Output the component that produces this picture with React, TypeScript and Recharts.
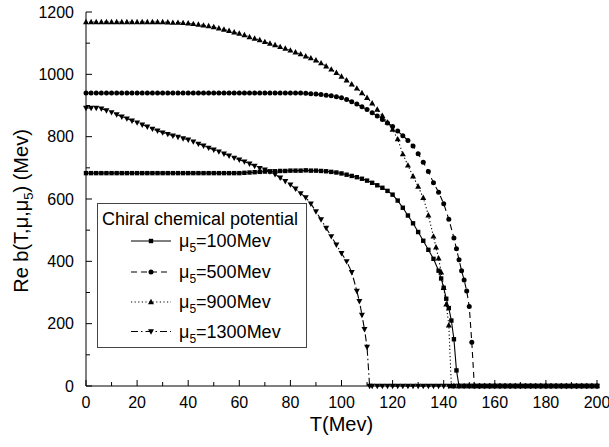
import { LineChart, Line, XAxis, YAxis, Legend } from "recharts";

const FONT = '"Liberation Sans", Arial, Helvetica, sans-serif';

// Re b(T, mu, mu5) in MeV against T in MeV: [T, value]
const mu100: [number, number][] = [
  [0, 683], [2, 683], [4, 683], [6, 683], [8, 683], [10, 683], [12, 683], [14, 683], [16, 683], [18, 683],
  [20, 683], [22, 683], [24, 683], [26, 683], [28, 683], [30, 683], [32, 683], [34, 683], [36, 683], [38, 683],
  [40, 683], [42, 683], [44, 683], [46, 683], [48, 683], [50, 683], [52, 683], [54, 683], [56, 683], [58, 683],
  [60, 683], [62, 684], [64, 685], [66, 686], [68, 687], [70, 688], [72, 688], [74, 689], [76, 690], [78, 690],
  [80, 691], [82, 691], [84, 691], [86, 692], [88, 691], [90, 691], [92, 690], [94, 689], [96, 687], [98, 685],
  [100, 682], [102, 678], [104, 674], [106, 670], [108, 665], [110, 659], [112, 652], [114, 644], [116, 636],
  [118, 626], [120, 614], [122, 595], [124, 572], [126, 547], [128, 522], [130, 494], [132, 466], [134, 437],
  [136, 408], [138, 370], [139, 345], [140, 315], [141, 280], [142, 250], [143, 210], [144, 150], [145, 50],
  [146, 0], [148, 0], [150, 0], [152, 0], [154, 0], [156, 0], [158, 0], [160, 0], [162, 0], [164, 0], [166, 0],
  [168, 0], [170, 0], [172, 0], [174, 0], [176, 0], [178, 0], [180, 0], [182, 0], [184, 0], [186, 0], [188, 0],
  [190, 0], [192, 0], [194, 0], [196, 0], [198, 0], [200, 0],
];

const mu500: [number, number][] = [
  [0, 940], [2, 940], [4, 940], [6, 940], [8, 940], [10, 940], [12, 940], [14, 940], [16, 940], [18, 940],
  [20, 940], [22, 940], [24, 940], [26, 940], [28, 940], [30, 940], [32, 940], [34, 940], [36, 940], [38, 940],
  [40, 940], [42, 940], [44, 940], [46, 940], [48, 940], [50, 940], [52, 940], [54, 940], [56, 940], [58, 940],
  [60, 940], [62, 940], [64, 940], [66, 940], [68, 940], [70, 940], [72, 940], [74, 940], [76, 940], [78, 940],
  [80, 940], [82, 940], [84, 940], [86, 939], [88, 938], [90, 937], [92, 935], [94, 933], [96, 931], [98, 928],
  [100, 925], [102, 919], [104, 912], [106, 905], [108, 896], [110, 887], [112, 877], [114, 866], [116, 855],
  [118, 844], [120, 833], [122, 818], [124, 803], [126, 788], [128, 770], [130, 745], [132, 718], [134, 688],
  [136, 652], [138, 622], [140, 585], [142, 535], [144, 475], [145, 440], [146, 405], [147, 370], [148, 340],
  [149, 305], [150, 255], [151, 140], [152, 0], [154, 0], [156, 0], [158, 0], [160, 0], [162, 0], [164, 0],
  [166, 0], [168, 0], [170, 0], [172, 0], [174, 0], [176, 0], [178, 0], [180, 0], [182, 0], [184, 0], [186, 0],
  [188, 0], [190, 0], [192, 0], [194, 0], [196, 0], [198, 0], [200, 0],
];

const mu900: [number, number][] = [
  [0, 1168], [2, 1168], [4, 1168], [6, 1168], [8, 1168], [10, 1168], [12, 1168], [14, 1168], [16, 1168],
  [18, 1168], [20, 1168], [22, 1168], [24, 1168], [26, 1168], [28, 1168], [30, 1168], [32, 1167], [34, 1166],
  [36, 1166], [38, 1165], [40, 1164], [42, 1162], [44, 1160], [46, 1157], [48, 1155], [50, 1152], [52, 1148],
  [54, 1144], [56, 1140], [58, 1135], [60, 1131], [62, 1126], [64, 1120], [66, 1115], [68, 1110], [70, 1104],
  [72, 1099], [74, 1094], [76, 1088], [78, 1083], [80, 1077], [82, 1071], [84, 1065], [86, 1058], [88, 1052],
  [90, 1045], [92, 1036], [94, 1026], [96, 1016], [98, 1005], [100, 993], [102, 981], [104, 968], [106, 955],
  [108, 940], [110, 925], [112, 907], [114, 887], [116, 867], [118, 846], [120, 823], [122, 792], [124, 744],
  [126, 708], [128, 673], [130, 640], [132, 604], [134, 548], [136, 480], [137, 445], [138, 410], [139, 365],
  [140, 315], [141, 262], [142, 195], [143, 0], [144, 0], [146, 0], [148, 0], [150, 0], [152, 0], [154, 0],
  [156, 0], [158, 0], [160, 0], [162, 0], [164, 0], [166, 0], [168, 0], [170, 0], [172, 0], [174, 0], [176, 0],
  [178, 0], [180, 0], [182, 0], [184, 0], [186, 0], [188, 0], [190, 0], [192, 0], [194, 0], [196, 0], [198, 0],
  [200, 0],
];

const mu1300: [number, number][] = [
  [0, 892], [2, 892], [4, 892], [6, 890], [8, 884], [10, 878], [12, 871], [14, 864], [16, 858], [18, 851],
  [20, 845], [22, 838], [24, 832], [26, 825], [28, 819], [30, 813], [32, 808], [34, 803], [36, 799], [38, 794],
  [40, 790], [42, 784], [44, 777], [46, 771], [48, 764], [50, 758], [52, 752], [54, 745], [56, 739], [58, 732],
  [60, 726], [62, 720], [64, 713], [66, 706], [68, 699], [70, 694], [72, 688], [74, 679], [76, 668], [78, 657],
  [80, 646], [82, 633], [84, 618], [86, 605], [88, 585], [90, 560], [92, 534], [94, 507], [96, 480], [98, 453],
  [100, 426], [102, 400], [104, 365], [106, 305], [107, 272], [108, 228], [109, 182], [110, 125], [111, 0],
  [112, 0], [114, 0], [116, 0], [118, 0], [120, 0], [122, 0], [124, 0], [126, 0], [128, 0], [130, 0], [132, 0],
  [134, 0], [136, 0], [138, 0], [140, 0], [142, 0], [144, 0], [146, 0], [148, 0], [150, 0], [152, 0], [154, 0],
  [156, 0], [158, 0], [160, 0], [162, 0], [164, 0], [166, 0], [168, 0], [170, 0], [172, 0], [174, 0], [176, 0],
  [178, 0], [180, 0], [182, 0], [184, 0], [186, 0], [188, 0], [190, 0], [192, 0], [194, 0], [196, 0], [198, 0],
  [200, 0],
];

const xTicks = [0, 10, 20, 30, 40, 50, 60, 70, 80, 90, 100, 110, 120, 130, 140, 150, 160, 170, 180, 190, 200];
const yTicks = [0, 100, 200, 300, 400, 500, 600, 700, 800, 900, 1000, 1100, 1200];

type Kind = "square" | "circle" | "up" | "down";

interface SeriesDef {
  key: string;
  mu: string;
  points: [number, number][];
  dash?: string;
  kind: Kind;
}

const SERIES: SeriesDef[] = [
  { key: "mu100", mu: "100", points: mu100, kind: "square" },
  { key: "mu500", mu: "500", points: mu500, dash: "6 4", kind: "circle" },
  { key: "mu900", mu: "900", points: mu900, dash: "1.2 2.4", kind: "up" },
  { key: "mu1300", mu: "1300", points: mu1300, dash: "7 3 1.5 3", kind: "down" },
];

// ─── markers ─────────────────────────────────────────────────────────────────

function marker(kind: Kind, cx: number, cy: number, key?: string) {
  switch (kind) {
    case "square":
      return <rect key={key} x={cx - 2.2} y={cy - 2.2} width={4.4} height={4.4} fill="#000" />;
    case "circle":
      return <circle key={key} cx={cx} cy={cy} r={2.5} fill="#000" />;
    case "up":
      return <path key={key} d={`M${cx},${cy - 3.2}L${cx + 3},${cy + 2.2}L${cx - 3},${cy + 2.2}Z`} fill="#000" />;
    default:
      return <path key={key} d={`M${cx},${cy + 3.2}L${cx + 3},${cy - 2.2}L${cx - 3},${cy - 2.2}Z`} fill="#000" />;
  }
}

// ─── ticks (pointing inward, Origin style) ───────────────────────────────────

function BottomTick({ x, y, payload }: any) {
  const major = payload.value % 20 === 0;
  return (
    <g>
      <line x1={x} x2={x} y1={y} y2={y - (major ? 6 : 4)} stroke="#000" />
      {major && (
        <text x={x} y={y + 22} textAnchor="middle" fontSize={16} fill="#000">
          {payload.value}
        </text>
      )}
    </g>
  );
}

function TopTick({ x, y, payload }: any) {
  const major = payload.value % 20 === 0;
  return <line x1={x} x2={x} y1={y} y2={y + (major ? 6 : 4)} stroke="#000" />;
}

function LeftTick({ x, y, payload }: any) {
  const major = payload.value % 200 === 0;
  return (
    <g>
      <line x1={x} x2={x + (major ? 6 : 4)} y1={y} y2={y} stroke="#000" />
      {major && (
        <text x={x - 12} y={y + 5.5} textAnchor="end" fontSize={16} fill="#000">
          {payload.value}
        </text>
      )}
    </g>
  );
}

function RightTick({ x, y, payload }: any) {
  const major = payload.value % 200 === 0;
  return <line x1={x} x2={x - (major ? 6 : 4)} y1={y} y2={y} stroke="#000" />;
}

function YTitle() {
  return (
    <text transform="translate(28,211) rotate(-90)" textAnchor="middle" fontSize={20} fill="#000">
      Re b(T,μ,μ<tspan dy={5} fontSize={13}>5</tspan>
      <tspan dy={-5}>) (Mev)</tspan>
    </text>
  );
}

function XTitle() {
  return (
    <text x={341.5} y={431} textAnchor="middle" fontSize={20} fill="#000">
      T(Mev)
    </text>
  );
}

// ─── legend box ──────────────────────────────────────────────────────────────

function LegendBox() {
  const rows = [38, 69, 99, 128.5];
  return (
    <svg width={211} height={146} style={{ display: "block", fontFamily: FONT }}>
      <rect x={0.5} y={0.5} width={209} height={144} fill="#fff" stroke="#444" />
      <text x={5} y={22} fontSize={18} fill="#000">
        Chiral chemical potential
      </text>
      {SERIES.map((s, i) => (
        <g key={s.key}>
          <line x1={34} x2={74} y1={rows[i]} y2={rows[i]} stroke="#000" strokeWidth={1.2} strokeDasharray={s.dash} />
          {marker(s.kind, 54, rows[i])}
          <text x={82} y={rows[i] + 6} fontSize={18} fill="#000">
            μ<tspan dy={5} fontSize={12}>5</tspan>
            <tspan dy={-5}>={s.mu}Mev</tspan>
          </text>
        </g>
      ))}
    </svg>
  );
}

// ─── chart ───────────────────────────────────────────────────────────────────

export default function App() {
  return (
    <div style={{ position: "fixed", left: 0, top: 0, width: 609, height: 447, background: "#fff", fontFamily: FONT }}>
      <LineChart width={609} height={447} margin={{ top: 12, right: 12, bottom: 21, left: 0 }}>
        <XAxis
          xAxisId="b"
          type="number"
          dataKey="t"
          domain={[0, 200]}
          ticks={xTicks}
          interval={0}
          height={40}
          tickSize={0}
          tickMargin={0}
          tickLine={false}
          axisLine={{ stroke: "#000" }}
          tick={<BottomTick />}
          label={<XTitle />}
        />
        <XAxis
          xAxisId="t"
          orientation="top"
          type="number"
          dataKey="t"
          domain={[0, 200]}
          allowDataOverflow
          ticks={xTicks}
          interval={0}
          height={0}
          tickSize={0}
          tickMargin={0}
          tickLine={false}
          axisLine={{ stroke: "#000" }}
          tick={<TopTick />}
        />
        <YAxis
          yAxisId="l"
          type="number"
          domain={[0, 1200]}
          ticks={yTicks}
          interval={0}
          width={86}
          tickSize={0}
          tickMargin={0}
          tickLine={false}
          axisLine={{ stroke: "#000" }}
          tick={<LeftTick />}
          label={<YTitle />}
        />
        <YAxis
          yAxisId="r"
          orientation="right"
          type="number"
          domain={[0, 1200]}
          allowDataOverflow
          ticks={yTicks}
          interval={0}
          width={0}
          tickSize={0}
          tickMargin={0}
          tickLine={false}
          axisLine={{ stroke: "#000" }}
          tick={<RightTick />}
        />
        <Legend
          layout="horizontal"
          verticalAlign="middle"
          align="center"
          wrapperStyle={{ left: 97, top: 203, width: 211, height: 146 }}
          content={() => <LegendBox />}
        />
        {SERIES.map((s) => (
          <Line
            key={s.key}
            xAxisId="b"
            yAxisId="l"
            name={`μ5=${s.mu}Mev`}
            data={s.points.map(([t, v]) => ({ t, v }))}
            dataKey="v"
            type="linear"
            stroke="#000"
            strokeWidth={1.1}
            strokeDasharray={s.dash}
            isAnimationActive={false}
            dot={(p: any) =>
              p.cx == null || p.cy == null ? <g key={`${s.key}-${p.index}`} /> : marker(s.kind, p.cx, p.cy, `${s.key}-${p.index}`)
            }
            activeDot={false}
          />
        ))}
      </LineChart>
    </div>
  );
}
